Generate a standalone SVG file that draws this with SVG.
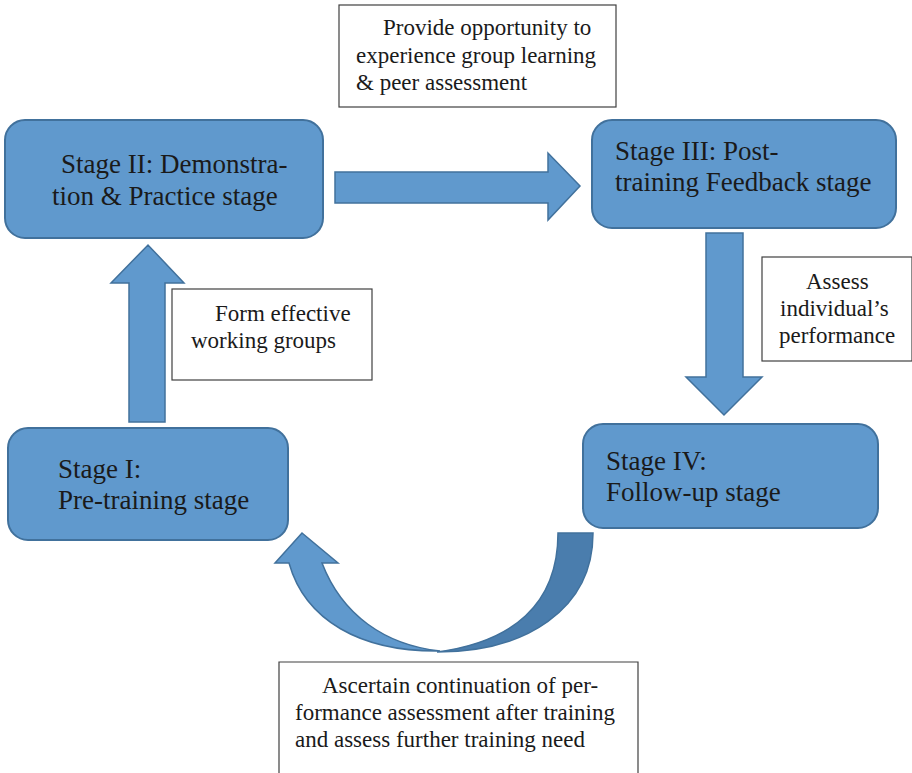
<svg xmlns="http://www.w3.org/2000/svg" width="912" height="773" viewBox="0 0 912 773">
<style>
.stage{fill:#6099CD;stroke:#41719C;stroke-width:2}
.arrow{fill:#6099CD;stroke:#41719C;stroke-width:1.5;stroke-linejoin:miter}
.dark{fill:#4A7DAD;stroke:#41719C;stroke-width:1.5}
.note{fill:#FFFFFF;stroke:#404040;stroke-width:1.2}
text{font-family:'Liberation Serif','Times New Roman',Tinos,'DejaVu Serif',serif;fill:#1a1a1a}
.big{font-size:27px}
.small{font-size:23px}
</style>
<rect width="912" height="773" fill="#FFFFFF"/>
<g id="connectors">
  <path class="arrow" d="M335,172 L548,172 L548,153 L580,186 L548,220 L548,203 L335,203 Z"/>
  <path class="arrow" d="M129,422 L129,283 L111,283 L148,245 L184,283 L165,283 L165,422 Z"/>
  <path class="arrow" d="M706,233 L743,233 L743,377 L762,377 L724,415 L686,377 L706,377 Z"/>
  <path class="dark" d="M558,533 L593,533 C593,610 525,652 437,652 C512,642 558,605 558,533 Z"/>
  <path class="arrow" d="M302,533 L338,563 L322,563 C342,615 385,645 440,651 C360,652 305,620 289,563 L275,563 Z"/>
</g>
<g id="note-top">
  <rect class="note" x="339" y="5" width="277" height="102"/>
  <text class="small" x="383" y="35">Provide opportunity to</text>
  <text class="small" x="356" y="63">experience group learning</text>
  <text class="small" x="356" y="90">&amp; peer assessment</text>
</g>
<g id="note-left">
  <rect class="note" x="172" y="289" width="200" height="91"/>
  <text class="small" x="215" y="321">Form effective</text>
  <text class="small" x="191" y="348">working groups</text>
</g>
<g id="note-right">
  <rect class="note" x="762" y="257" width="150" height="104"/>
  <text class="small" x="806" y="289">Assess</text>
  <text class="small" x="780" y="316">individual’s</text>
  <text class="small" x="779" y="343">performance</text>
</g>
<g id="note-bottom">
  <path class="note" d="M279,775 L279,662 L638,662 L638,775"/>
  <text class="small" x="322" y="693">Ascertain continuation of per-</text>
  <text class="small" x="295" y="720">formance assessment after training</text>
  <text class="small" x="295" y="747">and assess further training need</text>
</g>
<g id="stage2">
  <rect class="stage" x="5" y="120" width="318" height="118" rx="20"/>
  <text class="big" x="61" y="173">Stage II: Demonstra-</text>
  <text class="big" x="52" y="205">tion &amp; Practice stage</text>
</g>
<g id="stage3">
  <rect class="stage" x="592" y="120" width="304" height="108" rx="20"/>
  <text class="big" x="615" y="160">Stage III: Post-</text>
  <text class="big" x="615" y="191">training Feedback stage</text>
</g>
<g id="stage1">
  <rect class="stage" x="8" y="428" width="280" height="112" rx="20"/>
  <text class="big" x="58" y="478">Stage I:</text>
  <text class="big" x="58" y="509">Pre-training stage</text>
</g>
<g id="stage4">
  <rect class="stage" x="583" y="424" width="295" height="104" rx="20"/>
  <text class="big" x="606" y="470">Stage IV:</text>
  <text class="big" x="606" y="501">Follow-up stage</text>
</g>
</svg>
